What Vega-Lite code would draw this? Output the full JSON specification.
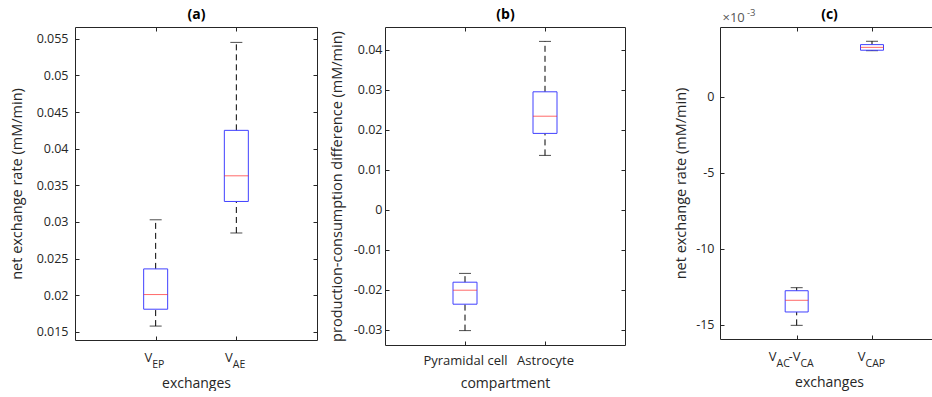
{
  "$schema": "https://vega.github.io/schema/vega-lite/v6.json",
  "background": "white",
  "padding": {"left": 8, "top": 6, "right": 0, "bottom": 0},
  "spacing": 11,
  "datasets": {
    "a": [
      {"exchange": "V_EP", "min": 0.0158, "q1": 0.0181, "median": 0.0201, "q3": 0.0236, "max": 0.0303},
      {"exchange": "V_AE", "min": 0.0285, "q1": 0.0328, "median": 0.0363, "q3": 0.0425, "max": 0.0545}
    ],
    "b": [
      {"compartment": "Pyramidal cell", "min": -0.0302, "q1": -0.0236, "median": -0.0201, "q3": -0.0181, "max": -0.0159},
      {"compartment": "Astrocyte", "min": 0.0136, "q1": 0.0191, "median": 0.0234, "q3": 0.0295, "max": 0.0421}
    ],
    "c": [
      {"exchange": "VAC-VCA", "min": -0.01504, "q1": -0.01416, "median": -0.01339, "q3": -0.01276, "max": -0.01256},
      {"exchange": "VCAP", "min": 0.00305, "q1": 0.00308, "median": 0.00327, "q3": 0.00345, "max": 0.00367}
    ]
  },
  "hconcat": [
    {
      "width": 242,
      "height": 313,
      "data": {"name": "a"},
      "layer": [
        {
          "mark": {"type": "rule", "color": "#000", "strokeDash": [6, 4], "strokeWidth": 1},
          "encoding": {
            "x": {"field": "exchange", "type": "nominal", "sort": null, "scale": {"type": "point", "padding": 1},
                  "axis": {"orient": "bottom", "labels": false, "tickSize": -4, "title": null, "minExtent": 0, "maxExtent": 0}},
            "y": {"field": "min", "type": "quantitative", "scale": {"domain": [0.0139, 0.0566], "nice": false, "zero": false},
                  "axis": {"orient": "left", "values": [0.015, 0.02, 0.025, 0.03, 0.035, 0.04, 0.045, 0.05, 0.055], "tickSize": -4, "labelPadding": 11, "labelExpr": "format(datum.value, '~g')", "minExtent": 38.7, "maxExtent": 38.7, "title": "net exchange rate (mM/min)", "titlePadding": 12.3}},
            "y2": {"field": "q1"}
          }
        },
        {
          "mark": {"type": "rule", "color": "#000", "strokeDash": [6, 4], "strokeWidth": 1},
          "encoding": {
            "x": {"field": "exchange", "type": "nominal", "sort": null,
                  "axis": {"orient": "top", "labels": false, "tickSize": -4, "minExtent": 0, "maxExtent": 0, "title": "(a)", "titleFontWeight": "bold", "titleFontSize": 14, "titleColor": "#000", "titlePadding": 6}},
            "y": {"field": "q3", "type": "quantitative",
                  "axis": {"orient": "right", "values": [0.015, 0.02, 0.025, 0.03, 0.035, 0.04, 0.045, 0.05, 0.055], "labels": false, "tickSize": -4, "minExtent": 0, "maxExtent": 0, "title": null}},
            "y2": {"field": "max"}
          }
        },
        {
          "mark": {"type": "tick", "color": "#000", "size": 12, "thickness": 1},
          "encoding": {
            "x": {"field": "exchange", "type": "nominal", "sort": null,
                  "axis": {"orient": "bottom", "ticks": false, "labelExpr": "'V'", "labelAlign": "right", "labelOffset": -4, "labelPadding": 11, "title": "exchanges", "titlePadding": 12}},
            "y": {"field": "min", "type": "quantitative", "axis": null}
          }
        },
        {
          "mark": {"type": "tick", "color": "#000", "size": 12, "thickness": 1},
          "encoding": {
            "x": {"field": "exchange", "type": "nominal", "sort": null,
                  "axis": {"orient": "bottom", "ticks": false, "labelExpr": "datum.value == 'V_EP' ? 'EP' : 'AE'", "labelAlign": "left", "labelOffset": -4, "labelPadding": 19, "labelFontSize": 10.5, "title": null}},
            "y": {"field": "max", "type": "quantitative", "axis": null}
          }
        },
        {
          "mark": {"type": "bar", "size": 24, "fill": "white", "fillOpacity": 0, "stroke": "#4040ff", "strokeWidth": 1},
          "encoding": {
            "x": {"field": "exchange", "type": "nominal", "sort": null, "axis": null},
            "y": {"field": "q1", "type": "quantitative", "axis": null},
            "y2": {"field": "q3"}
          }
        },
        {
          "mark": {"type": "tick", "color": "#ff2a2a", "size": 24, "thickness": 1},
          "encoding": {
            "x": {"field": "exchange", "type": "nominal", "sort": null, "axis": null},
            "y": {"field": "median", "type": "quantitative", "axis": null}
          }
        }
      ],
      "resolve": {"axis": {"x": "independent", "y": "independent"}}
    },
    {
      "spacing": 47,
      "hconcat": [
        {
          "width": 240,
          "height": 318,
          "data": {"name": "b"},
          "layer": [
            {
              "mark": {"type": "rule", "color": "#000", "strokeDash": [6, 4], "strokeWidth": 1},
              "encoding": {
                "x": {"field": "compartment", "type": "nominal", "sort": null, "scale": {"type": "point", "padding": 1},
                      "axis": {"orient": "bottom", "tickSize": -4, "labelPadding": 13, "labelFontSize": 13, "title": "compartment", "titlePadding": 9}},
                "y": {"field": "min", "type": "quantitative", "scale": {"domain": [-0.0338, 0.0457], "nice": false, "zero": false},
                      "axis": {"orient": "left", "values": [-0.03, -0.02, -0.01, 0, 0.01, 0.02, 0.03, 0.04], "tickSize": -4, "labelPadding": 7, "labelExpr": "replace(format(datum.value, '~g'), '\u2212', '-')", "minExtent": 36.5, "maxExtent": 36.5, "title": "production-consumption difference (mM/min)", "titlePadding": 4}},
                "y2": {"field": "q1"}
              }
            },
            {
              "mark": {"type": "rule", "color": "#000", "strokeDash": [6, 4], "strokeWidth": 1},
              "encoding": {
                "x": {"field": "compartment", "type": "nominal", "sort": null,
                      "axis": {"orient": "top", "labels": false, "tickSize": -4, "minExtent": 0, "maxExtent": 0, "title": "(b)", "titleFontWeight": "bold", "titleFontSize": 14, "titleColor": "#000", "titlePadding": 6}},
                "y": {"field": "q3", "type": "quantitative",
                      "axis": {"orient": "right", "values": [-0.03, -0.02, -0.01, 0, 0.01, 0.02, 0.03, 0.04], "labels": false, "tickSize": -4, "minExtent": 0, "maxExtent": 0, "title": null}},
                "y2": {"field": "max"}
              }
            },
            {
              "mark": {"type": "tick", "color": "#000", "size": 12, "thickness": 1},
              "encoding": {
                "x": {"field": "compartment", "type": "nominal", "sort": null, "axis": null},
                "y": {"field": "min", "type": "quantitative", "axis": null}
              }
            },
            {
              "mark": {"type": "tick", "color": "#000", "size": 12, "thickness": 1},
              "encoding": {
                "x": {"field": "compartment", "type": "nominal", "sort": null, "axis": null},
                "y": {"field": "max", "type": "quantitative", "axis": null}
              }
            },
            {
              "mark": {"type": "bar", "size": 24, "fill": "white", "fillOpacity": 0, "stroke": "#4040ff", "strokeWidth": 1},
              "encoding": {
                "x": {"field": "compartment", "type": "nominal", "sort": null, "axis": null},
                "y": {"field": "q1", "type": "quantitative", "axis": null},
                "y2": {"field": "q3"}
              }
            },
            {
              "mark": {"type": "tick", "color": "#ff2a2a", "size": 24, "thickness": 1},
              "encoding": {
                "x": {"field": "compartment", "type": "nominal", "sort": null, "axis": null},
                "y": {"field": "median", "type": "quantitative", "axis": null}
              }
            }
          ],
          "resolve": {"axis": {"x": "independent", "y": "independent"}}
        },
        {
          "width": 218,
          "height": 312,
          "view": {"stroke": null},
          "data": {"name": "c"},
          "layer": [
            {
              "mark": {"type": "rule", "color": "#000", "strokeDash": [6, 4], "strokeWidth": 1},
              "encoding": {
                "x": {"field": "exchange", "type": "nominal", "sort": null, "scale": {"type": "point", "padding": 0.947, "align": 0.5375},
                      "axis": {"orient": "bottom", "labels": false, "tickSize": -4, "domain": true, "domainColor": "#262626", "minExtent": 0, "maxExtent": 0, "title": null}},
                "y": {"field": "min", "type": "quantitative", "scale": {"domain": [-0.01594, 0.00461], "nice": false, "zero": false},
                      "axis": {"orient": "left", "values": [-0.015, -0.01, -0.005, 0], "tickSize": -4, "domain": true, "domainColor": "#262626", "labelPadding": 10, "labelExpr": "round(datum.value * 1000) + ''", "minExtent": 24.5, "maxExtent": 24.5, "title": "net exchange rate (mM/min)", "titlePadding": 7}},
                "y2": {"field": "q1"}
              }
            },
            {
              "mark": {"type": "rule", "color": "#000", "strokeDash": [6, 4], "strokeWidth": 1},
              "encoding": {
                "x": {"field": "exchange", "type": "nominal", "sort": null,
                      "axis": {"orient": "top", "labels": false, "tickSize": -4, "domain": true, "domainColor": "#262626", "minExtent": 0, "maxExtent": 0, "title": "(c)", "titleFontWeight": "bold", "titleFontSize": 14, "titleColor": "#000", "titlePadding": 6}},
                "y": {"field": "q3", "type": "quantitative", "axis": null},
                "y2": {"field": "max"}
              }
            },
            {
              "mark": {"type": "tick", "color": "#000", "size": 12, "thickness": 1},
              "encoding": {
                "x": {"field": "exchange", "type": "nominal", "sort": null,
                      "axis": {"orient": "bottom", "ticks": false, "labelExpr": "'V'", "labelAlign": "right",
                               "labelOffset": {"condition": {"test": "datum.value === 'VAC-VCA'", "value": -20.7}, "value": -7},
                               "labelPadding": 11, "title": "exchanges", "titlePadding": 12}},
                "y": {"field": "min", "type": "quantitative",
                      "axis": {"orient": "left", "labels": false, "ticks": false, "minExtent": 0, "maxExtent": 0, "title": "\u00d710", "titleAngle": 0, "titleAlign": "left", "titleBaseline": "alphabetic", "titleX": 2, "titleY": -6, "titleFontSize": 13, "titleColor": "#555"}}
              }
            },
            {
              "mark": {"type": "tick", "color": "#000", "size": 12, "thickness": 1},
              "encoding": {
                "x": {"field": "exchange", "type": "nominal", "sort": null,
                      "axis": {"orient": "bottom", "ticks": false, "labelExpr": "datum.value === 'VAC-VCA' ? '-V' : ''", "labelAlign": "right", "labelOffset": 3.3, "labelPadding": 11, "title": null}},
                "y": {"field": "max", "type": "quantitative",
                      "axis": {"orient": "left", "labels": false, "ticks": false, "minExtent": 0, "maxExtent": 0, "title": "-3", "titleAngle": 0, "titleAlign": "left", "titleBaseline": "alphabetic", "titleX": 26.5, "titleY": -12, "titleFontSize": 9.5, "titleColor": "#555"}}
              }
            },
            {
              "mark": {"type": "bar", "size": 23, "fill": "white", "fillOpacity": 0, "stroke": "#4040ff", "strokeWidth": 1},
              "encoding": {
                "x": {"field": "exchange", "type": "nominal", "sort": null,
                      "axis": {"orient": "bottom", "ticks": false, "labelExpr": "datum.value === 'VAC-VCA' ? 'AC' : 'CAP'", "labelAlign": "left",
                               "labelOffset": {"condition": {"test": "datum.value === 'VAC-VCA'", "value": -20.7}, "value": -7},
                               "labelPadding": 19, "labelFontSize": 10.5, "title": null}},
                "y": {"field": "q1", "type": "quantitative", "axis": null},
                "y2": {"field": "q3"}
              }
            },
            {
              "mark": {"type": "tick", "color": "#ff2a2a", "size": 23, "thickness": 1},
              "encoding": {
                "x": {"field": "exchange", "type": "nominal", "sort": null,
                      "axis": {"orient": "bottom", "ticks": false, "labelExpr": "datum.value === 'VAC-VCA' ? 'CA' : ''", "labelAlign": "left", "labelOffset": 3.3, "labelPadding": 19, "labelFontSize": 10.5, "title": null}},
                "y": {"field": "median", "type": "quantitative", "axis": null}
              }
            }
          ],
          "resolve": {"axis": {"x": "independent", "y": "independent"}}
        }
      ]
    }
  ],
  "config": {
    "font": "Open Sans",
    "view": {"stroke": "#262626", "strokeWidth": 1},
    "axis": {"domain": false, "grid": false, "labelColor": "#262626", "titleColor": "#262626", "tickColor": "#262626", "labelFontSize": 12.5, "titleFontSize": 14, "titleFontWeight": "normal", "labelFont": "Open Sans", "titleFont": "Open Sans"},
    "axisY": {"titleFontSize": 14.5},
    "axisX": {"labelAngle": 0, "labelFontSize": 13},
    "title": {"fontSize": 13, "fontWeight": "bold", "color": "#000", "offset": 6, "font": "Open Sans"}
  }
}
